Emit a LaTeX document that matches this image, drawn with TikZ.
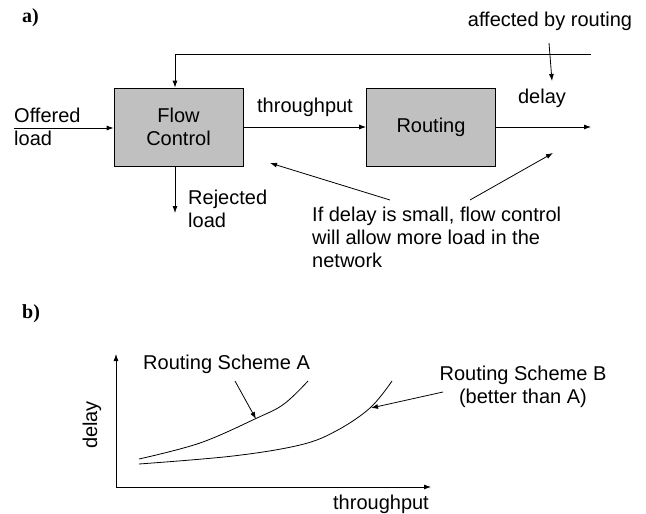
\documentclass[tikz,border=0pt]{standalone}
\usepackage{fontspec}
\setmainfont{Liberation Sans}
\newfontfamily\partfont{Liberation Serif}
\usetikzlibrary{arrows.meta}
\definecolor{boxgray}{HTML}{C0C0C0}
\tikzset{
  every node/.style={inner sep=0pt, font=\fontsize{20}{23}\selectfont},
  blockbox/.style={draw, fill=boxgray, minimum width=129pt, minimum height=78pt, align=center, line width=0.8pt},
  txt/.style={align=left},
  conn/.style={line width=0.8pt, -{Latex[length=7pt,width=5pt]}},
  plain/.style={line width=0.8pt},
  partlabel/.style={font=\fontsize{20}{23}\selectfont\partfont\bfseries}
}
\begin{document}
\begin{tikzpicture}[x=1pt, y=-1pt]
\useasboundingbox (0,0) rectangle (646,514);

% ---------- part a: flow control and routing ----------
\node[partlabel, anchor=base west] (la) at (22,23) {a)};

\node[blockbox] (fc) at (178.5,127) {Flow\\Control};
\node[blockbox] (rt) at (431,127) {Routing};

\node[txt, anchor=west] (offered) at (14,127) {Offered\\load};
\coordinate (inpt) at (14,128);
\draw[conn] (inpt) -- (inpt -| fc.west);

\node[anchor=base] (thr) at (305,112) {throughput};
\draw[conn] (fc.east) -- (rt.west);

\coordinate (outpt) at (591,127);
\draw[conn] (rt.east) -- (outpt);
\node[anchor=base] (dly) at (542,103) {delay};

% feedback path over the top
\coordinate (fbend) at (591,54);
\coordinate (fbdown) at (175,54);
\draw[plain] (fbend) -- (fbdown);
\draw[conn] (fbdown) -- (fbdown |- fc.north);

\node[anchor=base] (aff) at (550,27) {affected by routing};
\coordinate (affstart) at (549,43);
\coordinate (afftip) at (552,81);
\draw[conn] (affstart) -- (afftip);

% rejected load
\coordinate (rejtop) at (175,166);
\coordinate (rejtip) at (175,213);
\draw[conn] (rejtop) -- (rejtip);
\node[txt, anchor=west] (rej) at (188,209) {Rejected\\load};

% explanatory note
\node[txt, anchor=west] (note) at (312,237) {If delay is small, flow control\\will allow more load in the\\network};
\coordinate (n1) at (390,200);
\coordinate (n1tip) at (270,163);
\coordinate (n2) at (470,200);
\coordinate (n2tip) at (553,153);
\draw[conn] (n1) -- (n1tip);
\draw[conn] (n2) -- (n2tip);

% ---------- part b: delay vs throughput ----------
\node[partlabel, anchor=base west] (lb) at (22,318) {b)};

\coordinate (origin) at (116,487);
\coordinate (ytop) at (116,354);
\coordinate (xend) at (431,487);
\draw[conn] (origin) -- (ytop);
\draw[conn] (origin) -- (xend);

\node[rotate=90] (ylab) at (92,425) {delay};
\node[anchor=base] (xlab) at (381,509) {throughput};

% curve A
\draw[plain] plot[smooth, tension=0.6] coordinates {(139,459) (200,443) (257,418) (284,404) (308,381)};
% curve B
\draw[plain] plot[smooth, tension=0.6] coordinates {(139,464) (233,456) (300,445) (336,431) (370,408) (392,381)};

\node[anchor=base west] (schA) at (143,369) {Routing Scheme A};
\coordinate (aStart) at (235,381);
\coordinate (aTip) at (256,419);
\draw[conn] (aStart) -- (aTip);

\node[align=center] (schB) at (523,387) {Routing Scheme B\\(better than A)};
\coordinate (bStart) at (443,392);
\coordinate (bTip) at (371,408);
\draw[conn] (bStart) -- (bTip);
\end{tikzpicture}
\end{document}
